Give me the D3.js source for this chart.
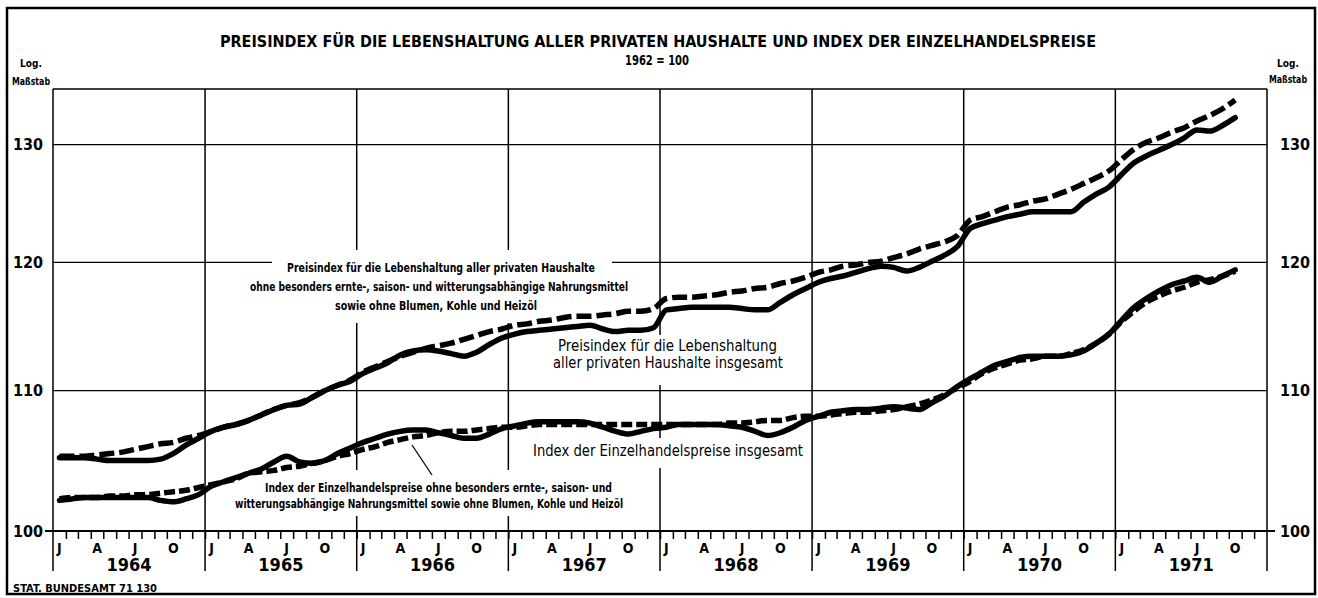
<!DOCTYPE html>
<html><head><meta charset="utf-8">
<script src="https://cdn.jsdelivr.net/npm/d3@7"></script>
<style>
html,body{margin:0;padding:0;background:#fff;}
svg{display:block;}
text{font-family:"Liberation Sans Narrow","DejaVu Sans Condensed","Arial Narrow",sans-serif;fill:#000;}
</style></head><body>
<svg id="chart" width="1318" height="598"></svg>
<script>
// ---- data (monthly, Jan 1964 – Oct 1971, 1962 = 100) ----
const startYear = 1964;
const years = [1964, 1965, 1966, 1967, 1968, 1969, 1970, 1971];
const quarterLetters = ["J", "A", "J", "O"];
const yTicks = [100, 110, 120, 130];

// Preisindex für die Lebenshaltung aller privaten Haushalte insgesamt
const cpiTotal = [
 105.1,105.1,105.1,105.0,104.9,104.9,104.9,104.9,105.0,105.4,106.0,106.5,
 107.0,107.3,107.5,107.8,108.2,108.6,108.9,109.0,109.5,110.0,110.4,110.7,
 111.3,111.7,112.1,112.7,113.0,113.1,113.0,112.8,112.6,112.9,113.5,114.0,
 114.3,114.5,114.6,114.7,114.8,114.9,115.0,114.7,114.5,114.6,114.6,114.8,
 116.2,116.3,116.4,116.4,116.4,116.4,116.3,116.2,116.2,116.8,117.4,117.9,
 118.4,118.7,118.9,119.2,119.5,119.7,119.6,119.3,119.6,120.1,120.6,121.3,
 122.8,123.2,123.5,123.8,124.0,124.2,124.2,124.2,124.2,125.0,125.7,126.3,
 127.4,128.4,129.0,129.5,130.0,130.6,131.3,131.2,131.7,132.4
];
// ... ohne besonders ernte-, saison- und witterungsabhängige Nahrungsmittel ...
const cpiExcl = [
 105.2,105.2,105.2,105.3,105.4,105.5,105.7,105.9,106.1,106.2,106.5,106.7,
 107.0,107.3,107.5,107.8,108.2,108.6,108.9,109.1,109.5,110.0,110.4,110.8,
 111.4,111.8,112.2,112.6,112.9,113.2,113.4,113.6,113.9,114.2,114.5,114.7,
 115.0,115.1,115.3,115.4,115.6,115.7,115.7,115.8,115.9,116.1,116.1,116.3,
 117.1,117.2,117.2,117.3,117.4,117.6,117.7,117.9,118.0,118.3,118.5,118.8,
 119.2,119.4,119.7,119.8,120.0,120.1,120.4,120.7,121.1,121.4,121.7,122.2,
 123.5,123.8,124.2,124.6,124.8,125.1,125.3,125.7,126.1,126.6,127.1,127.7,
 128.7,129.6,130.2,130.6,131.1,131.5,132.1,132.6,133.2,134.0
];
// Index der Einzelhandelspreise insgesamt
const retailTotal = [
 102.1,102.2,102.3,102.3,102.3,102.3,102.3,102.3,102.1,102.0,102.2,102.5,
 103.1,103.4,103.7,104.0,104.3,104.8,105.2,104.8,104.7,104.9,105.4,105.8,
 106.2,106.5,106.8,107.0,107.1,107.1,106.9,106.7,106.5,106.5,106.8,107.2,
 107.4,107.6,107.7,107.7,107.7,107.7,107.6,107.3,107.0,106.8,107.0,107.2,
 107.3,107.5,107.5,107.5,107.5,107.4,107.3,107.0,106.7,106.9,107.3,107.8,
 108.1,108.4,108.5,108.6,108.6,108.7,108.8,108.7,108.6,109.1,109.6,110.3,
 110.9,111.4,111.9,112.2,112.5,112.6,112.6,112.6,112.7,113.0,113.6,114.3,
 115.4,116.4,117.1,117.7,118.2,118.5,118.8,118.4,118.9,119.4
];
// Index der Einzelhandelspreise ohne besonders ernte-, saison- ... Heizöl
const retailExcl = [
 102.2,102.3,102.3,102.3,102.4,102.4,102.5,102.5,102.6,102.7,102.8,103.0,
 103.2,103.4,103.6,104.0,104.1,104.2,104.4,104.5,104.7,104.9,105.2,105.4,
 105.7,105.9,106.2,106.4,106.6,106.7,106.9,107.0,107.0,107.1,107.2,107.3,
 107.3,107.4,107.5,107.5,107.5,107.5,107.5,107.5,107.5,107.5,107.5,107.5,
 107.5,107.5,107.5,107.5,107.5,107.6,107.6,107.7,107.8,107.8,108.0,108.1,
 108.1,108.2,108.3,108.4,108.4,108.5,108.6,108.8,109.0,109.3,109.7,110.2,
 110.7,111.3,111.7,112.0,112.3,112.4,112.6,112.6,112.8,113.1,113.6,114.3,
 115.3,116.1,116.8,117.3,117.7,118.0,118.4,118.6,118.9,119.3
];

// ---- layout ----
const W = 1318, H = 598;
const L = 53, R = 1267, T = 89, B = 531;
const svg = d3.select("#chart");

const x = d3.scaleTime()
  .domain([new Date(startYear, 0, 1), new Date(startYear + years.length, 0, 1)])
  .range([L, R]);
const y = d3.scaleLog().domain([100, 135]).range([B, T]);

const midMonth = i => {
  const a = new Date(startYear, i, 1), b = new Date(startYear, i + 1, 1);
  return new Date((a.getTime() + b.getTime()) / 2);
};

// outer frame
svg.append("rect").attr("x", 7).attr("y", 8).attr("width", 1308).attr("height", 586)
  .attr("fill", "none").attr("stroke", "#000").attr("stroke-width", 2.5);

// title
svg.append("text").attr("x", 220).attr("y", 47).attr("textLength", 876)
  .attr("lengthAdjust", "spacingAndGlyphs")
  .style("font-size", "16px").style("font-weight", "bold")
  .text("PREISINDEX FÜR DIE LEBENSHALTUNG ALLER PRIVATEN HAUSHALTE UND INDEX DER EINZELHANDELSPREISE");
svg.append("text").attr("x", 625).attr("y", 65).attr("textLength", 64)
  .attr("lengthAdjust", "spacingAndGlyphs")
  .style("font-size", "14px").style("font-weight", "bold").text("1962 = 100");

// Log. Maßstab
[[31, 67, 85], [1288, 67, 83]].forEach(([cx, y1, y2]) => {
  svg.append("text").attr("x", cx).attr("y", y1).attr("text-anchor", "middle")
    .style("font-size", "10px").style("font-weight", "bold").text("Log.");
  svg.append("text").attr("x", cx).attr("y", y2).attr("text-anchor", "middle")
    .attr("textLength", 38).attr("lengthAdjust", "spacingAndGlyphs")
    .style("font-size", "11px").style("font-weight", "bold").text("Maßstab");
});

const g = svg.append("g");

// horizontal grid lines
g.selectAll("line.hgrid").data(yTicks.filter(v => v > 100)).join("line")
  .attr("x1", L).attr("x2", R).attr("y1", d => y(d)).attr("y2", d => y(d))
  .attr("stroke", "#000").attr("stroke-width", 1.3);
// top border
g.append("line").attr("x1", L).attr("x2", R).attr("y1", T).attr("y2", T)
  .attr("stroke", "#000").attr("stroke-width", 1.5);

// year separator lines (extend below axis)
const yearBounds = d3.range(years.length + 1).map(i => new Date(startYear + i, 0, 1));
g.selectAll("line.vgrid").data(yearBounds).join("line")
  .attr("x1", d => x(d)).attr("x2", d => x(d)).attr("y1", T).attr("y2", 571)
  .attr("stroke", "#000").attr("stroke-width", 1.5);

// white knock-outs behind annotations (hide grid only)
[[272, 250, 340, 73], [548, 335, 242, 50], [528, 438, 280, 30], [232, 470, 395, 46]]
  .forEach(([bx, by, bw, bh]) => g.append("rect").attr("x", bx).attr("y", by)
    .attr("width", bw).attr("height", bh).attr("fill", "#fff"));

// x axis: month ticks
const xAxis = d3.axisBottom(x)
  .tickValues(d3.timeMonth.range(new Date(startYear, 1, 1), new Date(startYear + years.length, 0, 1)))
  .tickSize(8).tickFormat("");
const ax = svg.append("g").attr("transform", `translate(0,${B})`).call(xAxis);
ax.select(".domain").remove();
ax.selectAll(".tick line").attr("stroke", "#000").attr("stroke-width", 1.5);
svg.append("line").attr("x1", 45).attr("x2", 1275).attr("y1", B).attr("y2", B)
  .attr("stroke", "#000").attr("stroke-width", 2);

// quarter letters
const quarterDates = [];
years.forEach(yr => [0, 3, 6, 9].forEach((m, k) => quarterDates.push({ m: (yr - startYear) * 12 + m, k })));
svg.selectAll("text.q").data(quarterDates).join("text")
  .attr("x", d => x(midMonth(d.m))).attr("y", 553).attr("text-anchor", "middle")
  .style("font-size", "14px").style("font-weight", "bold")
  .text(d => quarterLetters[d.k]);
// year labels
svg.selectAll("text.yr").data(years).join("text")
  .attr("x", d => (x(new Date(d, 0, 1)) + x(new Date(d + 1, 0, 1))) / 2)
  .attr("y", 571).attr("text-anchor", "middle")
  .style("font-size", "18px").style("font-weight", "bold").text(d => d);

// y axes
const yl = svg.append("g").attr("transform", `translate(${L},0)`)
  .call(d3.axisLeft(y).tickValues(yTicks).tickSize(0).tickPadding(10).tickFormat(d3.format("d")));
yl.select(".domain").remove();
yl.selectAll("text").style("font-size", "16px").style("font-weight", "bold")
  .style("font-family", "'Liberation Sans Narrow','DejaVu Sans Condensed',sans-serif");
const yr = svg.append("g").attr("transform", `translate(${R},0)`)
  .call(d3.axisRight(y).tickValues(yTicks).tickSize(0).tickPadding(13).tickFormat(d3.format("d")));
yr.select(".domain").remove();
yr.selectAll("text").style("font-size", "16px").style("font-weight", "bold")
  .style("font-family", "'Liberation Sans Narrow','DejaVu Sans Condensed',sans-serif");

// series
const line = d3.line().x((d, i) => x(midMonth(i))).y(d => y(d)).curve(d3.curveMonotoneX);
const series = [
  { data: cpiTotal, dash: null },
  { data: cpiExcl, dash: "15,5" },
  { data: retailTotal, dash: null },
  { data: retailExcl, dash: "11,4" }
];
series.forEach(s => {
  svg.append("path").attr("d", line(s.data)).attr("fill", "none")
    .attr("stroke", "#000").attr("stroke-width", 5.5)
    .attr("stroke-linejoin", "round")
    .attr("stroke-linecap", s.dash ? "butt" : "round")
    .attr("stroke-dasharray", s.dash);
});

// annotations
function label(txt, x0, yb, w, size, bold) {
  svg.append("text").attr("x", x0).attr("y", yb).attr("textLength", w)
    .attr("lengthAdjust", "spacingAndGlyphs")
    .style("font-size", size + "px").style("font-weight", bold ? "bold" : "normal").text(txt);
}
label("Preisindex für die Lebenshaltung aller privaten Haushalte", 287, 272, 308, 13, true);
label("ohne besonders ernte-, saison- und witterungsabhängige Nahrungsmittel", 250, 291, 378, 13, true);
label("sowie ohne Blumen, Kohle und Heizöl", 335, 310, 202, 13, true);

label("Preisindex für die Lebenshaltung", 558, 351, 219, 15, false);
label("aller privaten Haushalte insgesamt", 553, 368, 230, 15, false);

label("Index der Einzelhandelspreise insgesamt", 533, 456, 270, 16, false);

label("Index der Einzelhandelspreise ohne besonders ernte-, saison- und", 265, 492, 347, 13, true);
label("witterungsabhängige Nahrungsmittel sowie ohne Blumen, Kohle und Heizöl", 235, 508, 388, 13, true);
svg.append("line").attr("x1", 412).attr("y1", 445).attr("x2", 432).attr("y2", 475)
  .attr("stroke", "#000").attr("stroke-width", 1.3);

// footer
svg.append("text").attr("x", 13).attr("y", 592).attr("textLength", 144)
  .attr("lengthAdjust", "spacingAndGlyphs")
  .style("font-size", "11px").style("font-weight", "bold").text("STAT. BUNDESAMT 71 130");
</script>
</body></html>
